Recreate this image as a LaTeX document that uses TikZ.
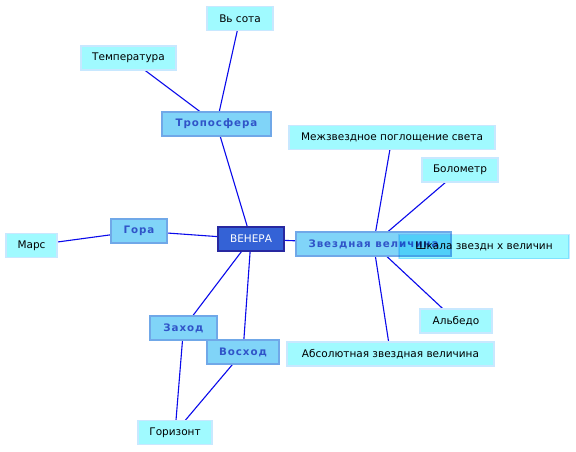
\documentclass[tikz,border=0pt]{standalone}
\usepackage{fontspec}
\setmainfont{DejaVu Sans}
\newfontfamily\catfont[LetterSpace=9]{DejaVu Sans Bold}
\usetikzlibrary{backgrounds}
\definecolor{edgeblue}{RGB}{10,10,235}
\definecolor{hubfill}{RGB}{52,98,214}
\definecolor{hubdraw}{RGB}{40,40,160}
\definecolor{catfill}{RGB}{128,212,248}
\definecolor{catdraw}{RGB}{112,168,232}
\definecolor{cattext}{RGB}{48,84,200}
\definecolor{leaffill}{RGB}{160,250,255}
\definecolor{leafdraw}{RGB}{200,232,255}
\tikzset{
  box/.style={rectangle, inner sep=0pt, minimum height=24pt, line width=1.3pt},
  hub/.style={box, fill=hubfill, draw=hubdraw, text=white, font=\fontsize{10.5}{12}\selectfont},
  cat/.style={box, fill=catfill, draw=catdraw, text=cattext, font=\catfont\fontsize{10.3}{12}\selectfont},
  leaf/.style={box, fill=leaffill, draw=leafdraw, text=black, font=\fontsize{10.5}{12}\selectfont},
  link/.style={edgeblue, line width=1.1pt}
}
\begin{document}
\begin{tikzpicture}[x=1pt, y=-1pt]
\useasboundingbox (0,0) rectangle (576,452);
\node[leaf, minimum width=66pt] (vysota) at (240,18.5) {Вь сота};
\node[leaf, minimum width=95pt] (temp) at (128.5,58) {Температура};
\node[cat, minimum width=109pt] (tropo) at (216.5,124) {Тропосфера};
\node[leaf, minimum width=206pt] (mezh) at (392,137.5) {Межзвездное поглощение света};
\node[leaf, minimum width=76pt] (bolo) at (460,170) {Болометр};
\node[hub, minimum width=66pt] (venera) at (251,239) {ВЕНЕРА};
\node[cat, minimum width=155pt] (zvezd) at (373.5,244) {Звездная величина};
\node[leaf, minimum width=170pt, blend mode=multiply] (shkala) at (484,246.5) {Шкала звездн х величин};
\node[cat, minimum width=56pt] (gora) at (139,231) {Гора};
\node[leaf, minimum width=51pt] (mars) at (31.5,245.5) {Марс};
\node[cat, minimum width=67pt] (zahod) at (183.5,328) {Заход};
\node[cat, minimum width=72pt] (voshod) at (243,352) {Восход};
\node[leaf, minimum width=72pt] (albedo) at (456,321) {Альбедо};
\node[leaf, minimum width=207pt] (abs) at (390.5,354) {Абсолютная звездная величина};
\node[leaf, minimum width=74pt] (gorizont) at (175,432.5) {Горизонт};
\begin{pgfonlayer}{background}
\fill[white] (0,0) rectangle (576,452);
\draw[link] (venera.center) -- (tropo.center);
\draw[link] (tropo.center) -- (vysota.center);
\draw[link] (tropo.center) -- (temp.center);
\draw[link] (venera.center) -- (gora.center);
\draw[link] (gora.center) -- (mars.center);
\draw[link] (venera.center) -- (zvezd.center);
\draw[link] (zvezd.center) -- (mezh.center);
\draw[link] (zvezd.center) -- (bolo.center);
\draw[link] (zvezd.center) -- (albedo.center);
\draw[link] (zvezd.center) -- (abs.center);
\draw[link] (venera.center) -- (zahod.center);
\draw[link] (venera.center) -- (voshod.center);
\draw[link] (zahod.center) -- (gorizont.center);
\draw[link] (voshod.center) -- (gorizont.center);
\end{pgfonlayer}
\end{tikzpicture}
\end{document}
